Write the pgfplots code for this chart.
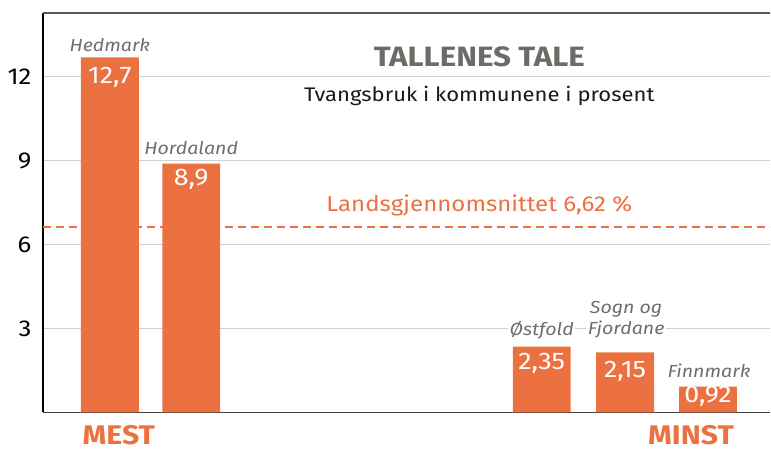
\documentclass[border=0pt]{standalone}
\usepackage{pgfplots}
\pgfplotsset{compat=1.18}
\usepackage{fontspec}
\setmainfont{Fira Sans}[FakeStretch=1.12]
\definecolor{bar}{HTML}{EC7141}
\definecolor{lab}{HTML}{6E6E6E}
\definecolor{ttl}{HTML}{6B6B67}
\definecolor{gridc}{HTML}{CFCFCF}
\begin{document}
\begin{tikzpicture}
\begin{axis}[
 scale only axis, width=728pt, height=400pt,
 xmin=0, xmax=728, ymin=0, ymax=14.2857,
 axis x line=bottom, axis y line=left, axis line style={-},
 x axis line style={draw=black!75, line width=1.6pt},
 y axis line style={draw=black, line width=1.2pt},
 xtick=\empty, ytick={3,6,9,12},
 major tick length=0pt,
 ymajorgrids, grid style={gridc, line width=1.2pt},
 /pgf/number format/assume math mode=true,
 yticklabel style={font=\fontsize{23}{23}\selectfont, xshift=-8pt},
 clip=false,
]
\addplot[bar, dashed, dash pattern=on 8pt off 5pt, line width=2.2pt] coordinates {(0,6.62) (728,6.62)};
\addplot[ybar, bar width=58, fill=bar, draw=none] coordinates {(67,12.7) (148.5,8.9) (499.5,2.35) (583,2.15) (666,0.92)};
\begin{scope}[every node/.style={font=\fontsize{24}{24}\selectfont, text=white}]
\node at (axis cs:67,12.0) {12,7};
\node at (axis cs:148.5,8.32) {8,9};
\node at (axis cs:499.5,1.75) {2,35};
\node at (axis cs:583,1.46) {2,15};
\node at (axis cs:666,0.57) {0,92};
\end{scope}
\begin{scope}[every node/.style={font=\fontsize{17.5}{20.5}\selectfont\itshape, text=lab}]
\node at (axis cs:67,13.14) {Hedmark};
\node at (axis cs:148.5,9.46) {Hordaland};
\node[fill=white, inner sep=1.5pt] at (axis cs:499.5,2.93) {Østfold};
\node[fill=white, inner sep=1.5pt, align=center] at (axis cs:584,3.32) {Sogn og\\Fjordane};
\node at (axis cs:667,1.5) {Finnmark};
\end{scope}
\node[font=\fontsize{28}{28}\selectfont\bfseries, text=ttl] at (axis cs:437,12.71) {TALLENES TALE};
\node[font=\fontsize{19.7}{19.7}\selectfont, text=black!90] at (axis cs:437,11.32) {Tvangsbruk i kommunene i prosent};
\node[font=\fontsize{21.5}{21.5}\selectfont, text=bar] at (axis cs:437,7.39) {Landsgjennomsnittet 6,62 \%};
\node[font=\fontsize{27}{27}\selectfont\bfseries, text=bar, inner sep=0pt] at (axis cs:76,-0.82) {MEST};
\node[font=\fontsize{27}{27}\selectfont\bfseries, text=bar, inner sep=0pt] at (axis cs:649,-0.82) {MINST};
\draw[black!65, line width=2pt] (rel axis cs:0,1) -- (rel axis cs:1,1);
\end{axis}
\useasboundingbox (-43pt,-39pt) rectangle (728pt,413pt);
\end{tikzpicture}
\end{document}
